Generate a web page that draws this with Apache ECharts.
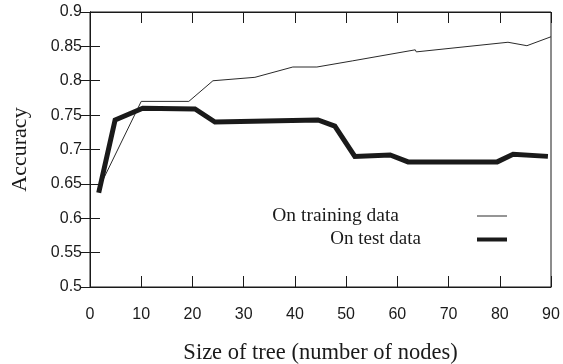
<!DOCTYPE html>
<html>
<head>
<meta charset="utf-8">
<script src="https://cdn.jsdelivr.net/npm/echarts@6/dist/echarts.min.js"></script>
<style>html,body{margin:0;padding:0;background:#fff}#c{width:563px;height:364px}</style>
</head>
<body>
<div id="c"></div>
<script>
var trainX = [1.5, 10, 19.3, 24, 32.2, 39.6, 44.3, 51.3, 63.5, 63.7, 81.6, 85.3, 90];
var trainY = [0.64, 0.77, 0.77, 0.80, 0.805, 0.82, 0.82, 0.829, 0.845, 0.842, 0.856, 0.851, 0.864];
var testX = [1.7, 4.9, 10.3, 20.5, 24.4, 44.5, 47.8, 51.7, 58.6, 62.1, 79.5, 82.6, 89.4];
var testY = [0.637, 0.743, 0.760, 0.759, 0.740, 0.743, 0.734, 0.690, 0.692, 0.682, 0.682, 0.693, 0.690];
var xTicks = [0, 10, 20, 30, 40, 50, 60, 70, 80, 90];
var yTicks = [0.5, 0.55, 0.6, 0.65, 0.7, 0.75, 0.8, 0.85, 0.9];
var seriesNames = ['On training data', 'On test data'];
var xTitle = 'Size of tree (number of nodes)';
var yTitle = 'Accuracy';

function pairs(xs, ys) { return xs.map(function (x, i) { return [x, ys[i]]; }); }

var ink = '#1a1a1a';
var chart = echarts.init(document.getElementById('c'), null, {renderer: 'canvas'});
chart.setOption({
  animation: false,
  backgroundColor: '#fff',
  grid: {left: 90, right: 12, top: 12, bottom: 77, outerBoundsMode: 'none', containLabel: false,
         show: true, borderColor: ink, borderWidth: 1},
  legend: [
    {data: [seriesNames[0]], right: 56, top: 206, padding: 0, icon: 'rect', itemWidth: 30, itemHeight: 1,
     align: 'right', selectedMode: false,
     textStyle: {fontFamily: 'Liberation Serif', fontSize: 19.5, color: ink, padding: [0, 73, 0, 0]}},
    {data: [seriesNames[1]], right: 56, top: 230, padding: 0, icon: 'rect', itemWidth: 30, itemHeight: 4,
     align: 'right', selectedMode: false,
     textStyle: {fontFamily: 'Liberation Serif', fontSize: 19, color: ink, padding: [0, 51, 0, 0]}}
  ],
  xAxis: [
    {type: 'value', min: xTicks[0], max: xTicks[xTicks.length - 1], interval: 10, position: 'bottom',
     name: xTitle, nameLocation: 'middle', nameGap: 55,
     nameTextStyle: {fontFamily: 'Liberation Serif', fontSize: 22.5, color: ink},
     axisLine: {show: true, lineStyle: {color: ink, width: 1}},
     axisTick: {show: true, inside: true, length: 11, lineStyle: {color: ink}},
     axisLabel: {margin: 20, fontFamily: 'Liberation Sans', fontSize: 16, color: ink},
     splitLine: {show: false}},
    {type: 'value', min: xTicks[0], max: xTicks[xTicks.length - 1], interval: 10, position: 'top',
     axisLine: {show: true, lineStyle: {color: ink, width: 1}},
     axisTick: {show: true, inside: true, length: 11, lineStyle: {color: ink}},
     axisLabel: {show: false}, splitLine: {show: false}}
  ],
  yAxis: [
    {type: 'value', min: yTicks[0], max: yTicks[yTicks.length - 1], interval: 0.05, position: 'left',
     name: yTitle, nameLocation: 'middle', nameGap: 59, nameRotate: 90,
     nameTextStyle: {fontFamily: 'Liberation Serif', fontSize: 22, color: ink},
     axisLine: {show: true, lineStyle: {color: ink, width: 1}},
     axisTick: {show: true, inside: true, length: 10, lineStyle: {color: ink}},
     axisLabel: {margin: 8, fontFamily: 'Liberation Sans', fontSize: 16, color: ink,
       formatter: function (v) { return String(Math.round(v * 100) / 100); }},
     splitLine: {show: false}},
    {type: 'value', min: yTicks[0], max: yTicks[yTicks.length - 1], interval: 0.05, position: 'right',
     axisLine: {show: true, lineStyle: {color: ink, width: 1}},
     axisTick: {show: true, inside: true, length: 10, lineStyle: {color: ink}},
     axisLabel: {show: false}, splitLine: {show: false}}
  ],
  series: [
    {name: seriesNames[0], type: 'line', data: pairs(trainX, trainY), symbol: 'none',
     lineStyle: {color: '#2a2a2a', width: 1}, itemStyle: {color: '#2a2a2a'}},
    {name: seriesNames[1], type: 'line', data: pairs(testX, testY), symbol: 'none',
     lineStyle: {color: ink, width: 5, join: 'miter'}, itemStyle: {color: ink}}
  ]
});
</script>
</body>
</html>
